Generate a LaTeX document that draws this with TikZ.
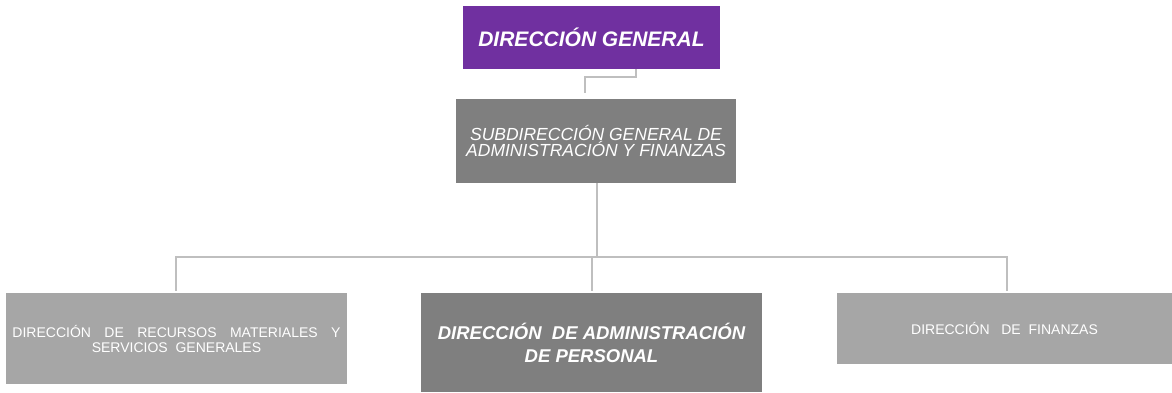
\documentclass[tikz,border=0pt]{standalone}
\usepackage{fontspec}
\setmainfont{Liberation Sans}
\definecolor{dgpurple}{HTML}{7030A0}
\definecolor{darkgray}{HTML}{7F7F7F}
\definecolor{midgray}{HTML}{A6A6A6}
\definecolor{linegray}{HTML}{BFBFBF}
\begin{document}
\begin{tikzpicture}[x=1pt,y=-1pt,
  box/.style={draw=none, inner sep=0pt, text=white, align=center},
  conn/.style={draw=linegray, line width=2pt}]
\useasboundingbox (0,0) rectangle (1172,392);
\fill[white] (0,0) rectangle (1172,392);
\node[box, fill=dgpurple, minimum width=257pt, minimum height=63pt,
  font=\bfseries\itshape\fontsize{21}{25}\selectfont] (dg) at (591.5,37.5) {DIRECCIÓN GENERAL};
\node[box, fill=darkgray, minimum width=280pt, minimum height=84pt,
  font=\itshape\fontsize{17.5}{16.5}\selectfont] (sub) at (596,141)
  {SUBDIRECCIÓN GENERAL DE\\ADMINISTRACIÓN Y FINANZAS};
\node[box, fill=midgray, minimum width=341pt, minimum height=91pt,
  font=\fontsize{14}{15}\selectfont] (left) at (176.5,338.5)
  {\makebox[328pt][s]{DIRECCIÓN \ DE \ RECURSOS \ MATERIALES \ Y}\\SERVICIOS\ \ GENERALES};
\node[box, fill=darkgray, minimum width=341pt, minimum height=99pt,
  font=\bfseries\itshape\fontsize{18.5}{23}\selectfont] (mid) at (591.5,342.5)
  {DIRECCIÓN\ \ DE ADMINISTRACIÓN\\DE PERSONAL};
\node[box, fill=midgray, minimum width=335pt, minimum height=71pt,
  font=\fontsize{14}{16}\selectfont] (right) at (1004.5,328.5)
  {DIRECCIÓN\ \ \ DE\ \ FINANZAS};
\coordinate (j1) at (636,77);
\coordinate (j2) at (585,77);
\draw[conn] (dg.south -| j1) -- (j1) -- (j2) -- ([yshift=6pt]sub.north -| j2);
\coordinate (bus) at (597,257);
\coordinate (bl) at (176,257);
\coordinate (br) at (1007,257);
\coordinate (bm) at (592,257);
\draw[conn] (sub.south -| bus) -- (bus);
\draw[conn] ([yshift=2pt]left.north -| bl) -- (bl) -- (br) -- ([yshift=2pt]right.north -| br);
\draw[conn] (bm) -- ([yshift=2pt]mid.north -| bm);
\end{tikzpicture}
\end{document}
